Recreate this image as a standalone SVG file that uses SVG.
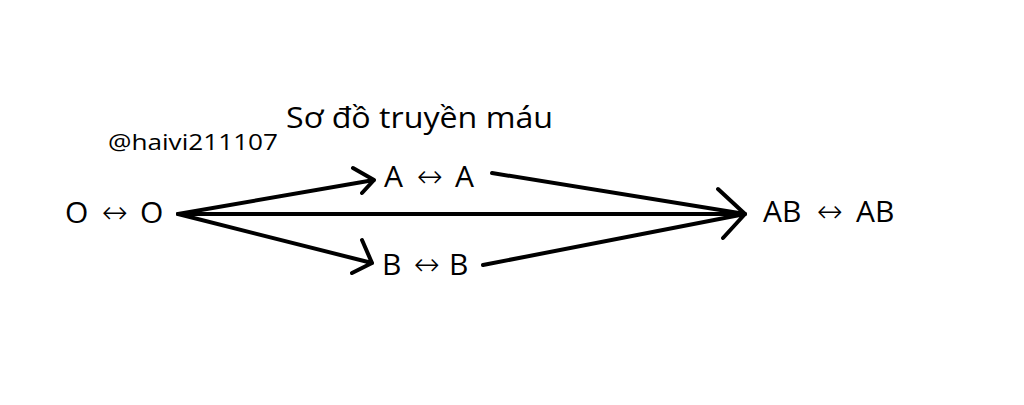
<svg xmlns="http://www.w3.org/2000/svg" width="1024" height="405" viewBox="0 0 1024 405">
<style>
text{font-family:"Open Sans","Noto Sans",sans-serif;fill:#000}
.n{font-size:30px}
.ar{font-family:"DejaVu Sans",sans-serif;font-weight:200;font-size:31px;text-anchor:middle}
.c{stroke:#000;stroke-width:4;fill:none;stroke-linecap:round;stroke-linejoin:round}
</style>
<rect width="1024" height="405" fill="#fff"/>
<g id="title"><text x="286" y="128" font-size="30" textLength="267" lengthAdjust="spacingAndGlyphs">Sơ đồ truyền máu</text></g>
<g id="watermark"><text x="108" y="150" font-size="22" fill="#222" textLength="170" lengthAdjust="spacingAndGlyphs">@haivi211107</text></g>
<g id="nodeO"><text class="n" x="65" y="223">O</text><text class="ar" x="115" y="223">↔</text><text class="n" x="140" y="223">O</text></g>
<g id="nodeA"><text class="n" x="384" y="187">A</text><text class="ar" x="430" y="187">↔</text><text class="n" x="455" y="187">A</text></g>
<g id="nodeB"><text class="n" x="382" y="275">B</text><text class="ar" x="427" y="275">↔</text><text class="n" x="449" y="275">B</text></g>
<g id="nodeAB"><text class="n" x="763" y="222">AB</text><text class="ar" x="830" y="222">↔</text><text class="n" x="856" y="222">AB</text></g>
<g id="connectors">
<path class="c" d="M178,214 L374,180 M353,168 L374,180 L362,193"/>
<path class="c" d="M178,214 L372,263 M362,240 L372,263 L352,273"/>
<path class="c" d="M178,214 L745,214"/>
<path class="c" d="M492,173 L745,214 M483,265 L745,214 M718,189 L745,214 L723,238"/>
</g>
</svg>
